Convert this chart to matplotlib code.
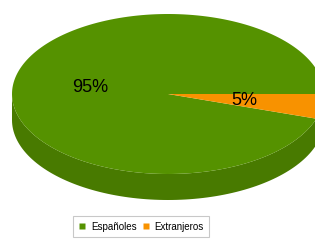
import numpy as np
import matplotlib.pyplot as plt
from matplotlib.patches import Polygon
from matplotlib.lines import Line2D

labels = ['Españoles', 'Extranjeros']
values = [95, 5]
top_colors = ['#559200', '#f89200']
side_colors = ['#487a00', '#d07a00']

plt.rcParams['font.family'] = ['Liberation Sans', 'DejaVu Sans']

W, H = 315, 240
fig = plt.figure(figsize=(W / 100, H / 100), dpi=100)
ax = fig.add_axes([0, 0, 1, 1])
ax.set_xlim(0, W)
ax.set_ylim(H, 0)
ax.axis('off')

cx, cy, rx, ry, depth = 168, 94, 156, 80, 26


def pt(theta, dy=0.0):
    return cx + rx * np.cos(theta), cy - ry * np.sin(theta) + dy


fracs = np.array(values, dtype=float) / sum(values)
bounds = np.concatenate([[0], np.cumsum(fracs)]) * 2 * np.pi

# side walls (front half only)
for i in range(len(values)):
    a0, a1 = max(bounds[i], np.pi), min(bounds[i + 1], 2 * np.pi)
    if a1 <= a0:
        continue
    t = np.linspace(a0, a1, 100)
    top = np.column_stack(pt(t))
    bot = np.column_stack(pt(t[::-1], depth))
    ax.add_patch(Polygon(np.vstack([top, bot]), closed=True,
                         facecolor=side_colors[i], edgecolor='none'))

# top faces
for i in range(len(values)):
    t = np.linspace(bounds[i], bounds[i + 1], 200)
    arc = np.column_stack(pt(t))
    poly = np.vstack([[cx, cy], arc])
    ax.add_patch(Polygon(poly, closed=True, facecolor=top_colors[i],
                         edgecolor='none'))
    mid = (bounds[i] + bounds[i + 1]) / 2
    lx, ly = cx + 0.5 * rx * np.cos(mid), cy - 0.5 * ry * np.sin(mid)
    ax.text(lx - 1, ly, f'{values[i]}%', fontsize=13, color='black',
            ha='center', va='center')

handles = [Line2D([], [], marker='s', linestyle='none', markersize=5,
                  markerfacecolor=c, markeredgecolor='none') for c in top_colors]
leg = ax.legend(handles, labels, loc='center', bbox_to_anchor=(141 / W, 1 - 226.5 / H),
                ncol=2, fontsize=7, frameon=True, fancybox=False,
                handlelength=0.8, handletextpad=0.5, columnspacing=0.5,
                borderpad=0.6, edgecolor='#bbbbbb')
leg.get_frame().set_linewidth(0.8)

fig.savefig('out.png', dpi=100)
